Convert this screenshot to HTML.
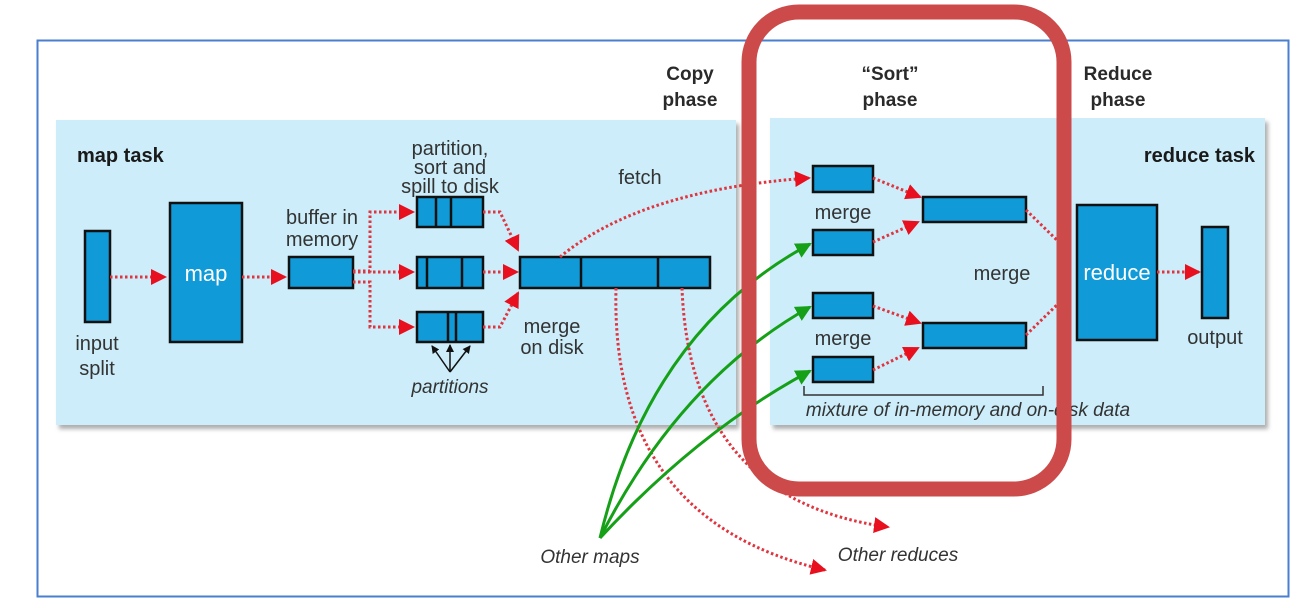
<!DOCTYPE html>
<html><head><meta charset="utf-8"><style>
html,body{margin:0;padding:0;background:#fff;}
svg{display:block;font-family:"Liberation Sans",sans-serif;}
</style></head><body>
<svg width="1300" height="608" viewBox="0 0 1300 608" xmlns="http://www.w3.org/2000/svg">
<defs>
<marker id="rb" markerWidth="16" markerHeight="16" refX="14" refY="8" orient="auto" markerUnits="userSpaceOnUse"><path d="M0,0 L16,8 L0,16 z" fill="#e8101e"/></marker>
<marker id="ga" markerWidth="16" markerHeight="16" refX="14" refY="8" orient="auto" markerUnits="userSpaceOnUse"><path d="M0,0 L16,8 L0,16 z" fill="#16a018"/></marker>
<marker id="ka" markerWidth="8" markerHeight="8" refX="7" refY="4" orient="auto" markerUnits="userSpaceOnUse"><path d="M0,0 L8,4 L0,8 z" fill="#111"/></marker>
<filter id="sh" x="-5%" y="-5%" width="110%" height="115%"><feDropShadow dx="3" dy="4" stdDeviation="2" flood-color="#777" flood-opacity="0.6"/></filter>
</defs>
<rect x="37.5" y="40.5" width="1251" height="556" fill="#fff" stroke="#4a7fcf" stroke-width="2"/>
<rect x="56" y="120" width="680" height="305" fill="#ccedf9" filter="url(#sh)"/>
<rect x="770" y="118" width="495" height="307" fill="#ccedf9" filter="url(#sh)"/>

<g font-weight="bold" fill="#1a1a1a" font-size="20">
<text x="77" y="162">map task</text>
<text x="1255" y="162" text-anchor="end">reduce task</text>
</g>
<g font-weight="bold" fill="#2a2a2a" font-size="19" text-anchor="middle">
<text x="690" y="80">Copy</text><text x="690" y="106">phase</text>
<text x="890" y="80">“Sort”</text><text x="890" y="106">phase</text>
<text x="1118" y="80">Reduce</text><text x="1118" y="106">phase</text>
</g>

<g fill="#109ad8" stroke="#111" stroke-width="2.5">
<rect x="85" y="231" width="25" height="91"/>
<rect x="170" y="203" width="72" height="139"/>
<rect x="289" y="257" width="64" height="31"/>
<rect x="417" y="197" width="66" height="30"/>
<rect x="417" y="257" width="66" height="31"/>
<rect x="417" y="312" width="66" height="30"/>
<rect x="520" y="257" width="190" height="31"/>
<rect x="813" y="166" width="60" height="26"/>
<rect x="813" y="230" width="60" height="25"/>
<rect x="813" y="293" width="60" height="25"/>
<rect x="813" y="357" width="60" height="25"/>
<rect x="923" y="197" width="103" height="25"/>
<rect x="923" y="323" width="103" height="25"/>
<rect x="1077" y="205" width="80" height="135"/>
<rect x="1202" y="227" width="26" height="91"/>
</g>
<g stroke="#111" stroke-width="2.5">
<line x1="436" y1="197" x2="436" y2="227"/><line x1="451" y1="197" x2="451" y2="227"/>
<line x1="427" y1="257" x2="427" y2="288"/><line x1="462" y1="257" x2="462" y2="288"/>
<line x1="448" y1="312" x2="448" y2="342"/><line x1="456" y1="312" x2="456" y2="342"/>
<line x1="581" y1="257" x2="581" y2="288"/><line x1="658" y1="257" x2="658" y2="288"/>
</g>

<g fill="#fff" font-size="22" text-anchor="middle">
<text x="206" y="281">map</text>
<text x="1117" y="280">reduce</text>
</g>

<g fill="#333" font-size="20" text-anchor="middle">
<text x="97" y="350">input</text><text x="97" y="375">split</text>
<text x="322" y="224">buffer in</text><text x="322" y="246">memory</text>
<text x="450" y="155">partition,</text><text x="450" y="174">sort and</text><text x="450" y="193">spill to disk</text>
<text x="552" y="333">merge</text><text x="552" y="354">on disk</text>
<text x="640" y="184">fetch</text>
<text x="843" y="219">merge</text>
<text x="843" y="345">merge</text>
<text x="1002" y="280">merge</text>
<text x="1215" y="344">output</text>
</g>
<g fill="#333" font-size="19" font-style="italic" text-anchor="middle">
<text x="450" y="393">partitions</text>
<text x="968" y="416">mixture of in-memory and on-disk data</text>
<text x="590" y="563">Other maps</text>
<text x="898" y="561">Other reduces</text>
</g>

<g stroke="#111" stroke-width="1.5" fill="none">
<path d="M450,372 L432,346" marker-end="url(#ka)"/>
<path d="M450,372 L450,345" marker-end="url(#ka)"/>
<path d="M450,372 L470,346" marker-end="url(#ka)"/>
</g>

<g stroke="#e0343f" stroke-width="3" stroke-dasharray="2.5 2.5" fill="none">
<path d="M110,277 L165,277" marker-end="url(#rb)"/>
<path d="M242,277 L285,277" marker-end="url(#rb)"/>
<path d="M353,271 L370,271 L370,212 L413,212" marker-end="url(#rb)"/>
<path d="M353,272 L413,272" marker-end="url(#rb)"/>
<path d="M353,282 L370,282 L370,327 L413,327" marker-end="url(#rb)"/>
<path d="M483,212 L500,212 L518,250" marker-end="url(#rb)"/>
<path d="M483,272 L517,272" marker-end="url(#rb)"/>
<path d="M483,327 L500,327 L518,293" marker-end="url(#rb)"/>
<path d="M560,257 Q640,190 809,178" marker-end="url(#rb)"/>
<path d="M616,288 Q610,520 825,570" marker-end="url(#rb)"/>
<path d="M682,288 Q690,500 888,527" marker-end="url(#rb)"/>
<path d="M873,178 L920,197" marker-end="url(#rb)"/>
<path d="M873,242 L918,222" marker-end="url(#rb)"/>
<path d="M873,306 L920,323" marker-end="url(#rb)"/>
<path d="M873,370 L918,348" marker-end="url(#rb)"/>
<path d="M1026,210 L1062,245"/>
<path d="M1026,335 L1062,300"/>
<path d="M1157,272 L1199,272" marker-end="url(#rb)"/>
</g>

<g stroke="#16a018" stroke-width="3" fill="none">
<path d="M600,538 Q650,330 810,244" marker-end="url(#ga)"/>
<path d="M600,538 Q680,380 810,307" marker-end="url(#ga)"/>
<path d="M600,538 Q700,430 810,371" marker-end="url(#ga)"/>
</g>

<path d="M804,386 L804,395 L1043,395 L1043,386" stroke="#333" stroke-width="1.5" fill="none"/>

<rect x="749" y="12" width="315" height="477" rx="50" ry="50" fill="none" stroke="#cc4a4a" stroke-width="15"/>
</svg>
</body></html>
